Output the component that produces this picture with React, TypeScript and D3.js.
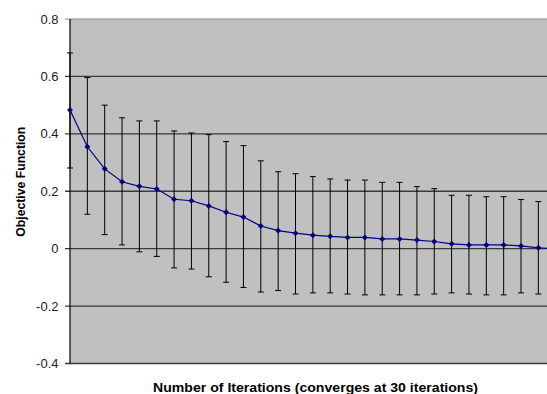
import React from "react";
import * as d3 from "d3";

const iterations = d3.range(1, 30);
const meanValues = [
  0.483, 0.355, 0.278, 0.233, 0.217, 0.208, 0.172, 0.167, 0.149, 0.127,
  0.110, 0.079, 0.063, 0.054, 0.047, 0.043, 0.039, 0.039, 0.034, 0.034,
  0.030, 0.025, 0.017, 0.013, 0.013, 0.013, 0.0095, 0.003, 0.0,
];
const upperValues = [
  0.682, 0.596, 0.500, 0.456, 0.445, 0.445, 0.410, 0.403, 0.397, 0.373,
  0.359, 0.306, 0.268, 0.261, 0.251, 0.243, 0.239, 0.239, 0.231, 0.231,
  0.216, 0.209, 0.186, 0.186, 0.181, 0.181, 0.171, 0.164, 0.160,
];
const lowerValues = [
  0.281, 0.120, 0.049, 0.013, -0.011, -0.027, -0.067, -0.071, -0.098, -0.117,
  -0.135, -0.151, -0.146, -0.158, -0.154, -0.154, -0.158, -0.161, -0.161, -0.161,
  -0.161, -0.158, -0.154, -0.158, -0.161, -0.161, -0.154, -0.158, -0.160,
];
const yTicks = [-0.4, -0.2, 0, 0.2, 0.4, 0.6, 0.8];
const yTitle = "Objective Function";
const xTitle = "Number of Iterations (converges at 30 iterations)";

const W = 547;
const H = 394;
const left = 70;
const right = 555.7;
const top = 19;
const bottom = 363.5;

export default function App() {
  const x = d3.scalePoint<number>().domain(iterations).range([left, right]);
  const y = d3.scaleLinear().domain([-0.4, 0.8]).range([bottom, top]);
  const data = iterations.map((it, i) => ({
    it,
    m: meanValues[i],
    lo: lowerValues[i],
    hi: upperValues[i],
  }));
  const line = d3
    .line<{ it: number; m: number }>()
    .x((d) => x(d.it) as number)
    .y((d) => y(d.m));
  const diamond = d3.symbol().type(d3.symbolSquare).size(18)();
  const font = "'Liberation Sans', Arial, sans-serif";
  return (
    <svg
      width={W}
      height={H}
      style={{ position: "absolute", left: 0, top: 0, background: "#fff" }}
    >
      <rect x={left} y={top} width={right - left} height={bottom - top} fill="#c0c0c0" />
      {yTicks.map((t) => (
        <line
          key={t}
          x1={left - 5}
          x2={right}
          y1={y(t)}
          y2={y(t)}
          stroke={t === 0.8 ? "#8a8a8a" : "#3a3a3a"}
          strokeWidth={t === 0.8 ? 1.2 : 1.3}
        />
      ))}
      <line x1={left} x2={left} y1={top} y2={bottom} stroke="#000" strokeWidth={1.2} />
      {yTicks.map((t) => (
        <text
          key={"l" + t}
          x={58.5}
          y={y(t)}
          dy="0.35em"
          textAnchor="end"
          fontFamily={font}
          fontSize={13}
          fill="#1a1a1a"
        >
          {t === 0 ? "0" : t.toFixed(1)}
        </text>
      ))}
      {data.map((d) => {
        const cx = x(d.it) as number;
        return (
          <g key={d.it} stroke="#000" strokeWidth={1}>
            <line x1={cx} x2={cx} y1={y(d.hi)} y2={y(d.lo)} />
            <line x1={cx - 3} x2={cx + 3} y1={y(d.hi)} y2={y(d.hi)} />
            <line x1={cx - 3} x2={cx + 3} y1={y(d.lo)} y2={y(d.lo)} />
          </g>
        );
      })}
      <path d={line(data) || ""} fill="none" stroke="#000080" strokeWidth={1.2} />
      {data.map((d) => (
        <path
          key={"m" + d.it}
          d={diamond || ""}
          transform={`translate(${x(d.it)},${y(d.m)}) rotate(45)`}
          fill="#000080"
        />
      ))}
      <text
        transform={`translate(24.5,181.7) rotate(-90)`}
        textAnchor="middle"
        fontFamily={font}
        fontWeight="bold"
        fontSize={12.5}
        textLength={110}
        lengthAdjust="spacingAndGlyphs"
        fill="#000"
      >
        {yTitle}
      </text>
      <text
        x={315.5}
        y={391.5}
        textAnchor="middle"
        fontFamily={font}
        fontWeight="bold"
        fontSize={13}
        textLength={325}
        lengthAdjust="spacingAndGlyphs"
        fill="#000"
      >
        {xTitle}
      </text>
    </svg>
  );
}
